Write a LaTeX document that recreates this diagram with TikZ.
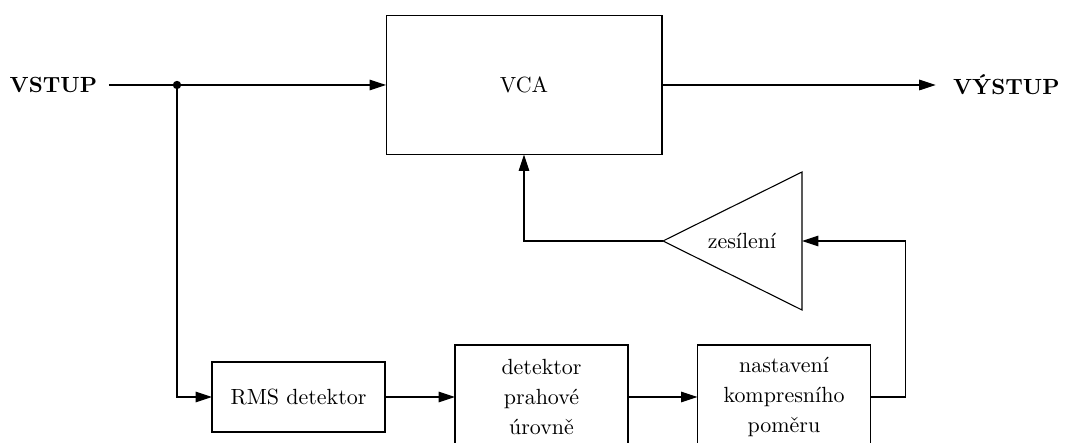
\documentclass[tikz,border=0pt]{standalone}
\usepackage{amsmath}
\usetikzlibrary{arrows.meta}

\tikzset{blok/.style={draw, inner sep=0pt, outer sep=0pt, minimum width=2.768cm}}

\begin{document}
\begin{tikzpicture}[x=0.016cm, y=-0.016cm, line width=0.5pt,
    >={Triangle[length=7.5pt,width=4.8pt]}]
    \useasboundingbox (0,0) rectangle (1066,443);

    %blocks
    \node[blok, minimum width=4.416cm, minimum height=2.224cm] (vca) at (524,85) {VCA};
    \node[blok, minimum height=1.12cm] (rms) at (298.5,397) {RMS detektor};
    \node[blok, minimum height=1.664cm, align=center] (prah) at (541.5,397) {detektor\\[1.6pt] prahové\\[1.6pt] úrovně};
    \node[blok, minimum height=1.664cm, align=center] (komp) at (784,397) {nastavení\\[1.6pt] kompresního\\[1.6pt] poměru};

    %triangle
    \coordinate (zhrot) at (663,241);
    \coordinate (zvstup) at (802,241);
    \draw (zhrot) -- (802,172) -- (802,310) -- cycle;
    \node (zes) at (742,241) {zesílení};

    %in/out
    \node[anchor=west, font=\bfseries, outer xsep=2pt] (vstup) at (-2,85) {VSTUP};
    \node[anchor=east, font=\bfseries, outer xsep=4.6pt] (vystup) at (1077,85) {VÝSTUP};
    \coordinate (bod) at (177,85);

    %lines
    \draw[->] (vstup) -- (vca);
    \fill (bod) circle (1.9pt);
    \draw[->] (vca) -- (vystup);
    \draw[->] (bod) |- (rms);
    \draw[->] (rms) -- (prah);
    \draw[->] (prah) -- (komp);
    \draw[->] (komp.east) -- ++(35,0) |- (zvstup);
    \draw[->] (zhrot) -| (vca.south);
\end{tikzpicture}
\end{document}
